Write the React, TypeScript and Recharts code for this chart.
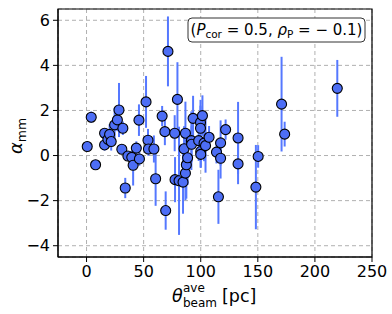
import React from 'react';
import {
	CartesianGrid,
	Customized,
	ErrorBar,
	ReferenceArea,
	Scatter,
	ScatterChart,
	XAxis,
	YAxis,
} from 'recharts';

// theta_beam^ave [pc], alpha_mm and its 1-sigma error
const theta = [
	0.6, 4.1, 7.9, 15.8, 15.8, 18.7, 20.2, 21.6, 24.6, 27.0, 28.4, 31.8, 30.9, 33.9, 36.2, 39.6,
	40.8, 43.6, 46.3, 45.9, 52.1, 53.8, 54.2, 59.0, 60.5, 66.2, 68.6, 69.3, 71.3, 77.2, 77.5, 79.6,
	81.0, 84.5, 85.4, 86.6, 86.6, 87.4, 88.5, 91.8, 92.0, 93.3, 98.2, 99.8, 99.8, 100.0, 100.0, 101.5,
	102.9, 104.2, 107.3, 113.8, 115.5, 117.4, 117.4, 121.8, 132.7, 132.7, 148.3, 150.3, 170.8, 173.5,
	219.6,
];
const alpha = [
	0.4, 1.7, -0.41, 0.99, 0.47, 0.72, 0.94, 0.62, 1.36, 1.58, 2.02, 1.21, 0.28, -1.44, -0.02, -0.08,
	-0.43, 0.33, -0.15, 1.57, 2.38, 0.68, 0.29, 0.29, -1.03, 1.75, 1.06, -2.44, 4.62, 0.99, -1.07, 2.49,
	-1.12, -1.18, 0.3, 0.99, -0.78, -0.41, -0.1, 0.66, 0.5, 1.65, 0.66, 1.47, 1.21, 0.18, 0.05, 1.77,
	0.55, 0.44, 0.81, 0.15, -1.83, 0.56, -0.12, 1.15, 0.78, -0.37, -1.4, -0.04, 2.28, 0.95,
	2.98,
];
const alphaErr = [
	0.12, 0.25, 0.1, 0.2, 0.25, 0.3, 0.45, 0.4, 0.75, 0.5, 1.2, 0.3, 0.2, 0.45, 0.2, 0.3,
	0.9, 0.3, 0.3, 0.7, 1.15, 0.5, 0.3, 0.6, 1.2, 0.45, 0.6, 0.85, 1.55, 0.8, 1.0, 1.65,
	2.4, 1.4, 1.0, 1.4, 1.2, 1.5, 1.2, 1.3, 0.8, 1.0, 0.9, 1.0, 1.0, 0.7, 0.6, 0.9,
	0.8, 1.2, 0.5, 0.5, 1.2, 1.0, 0.9, 0.45, 1.6, 0.9, 1.87, 0.5, 2.1, 0.55,
	1.26,
];

const xTicks = [0, 50, 100, 150, 200, 250];
const yTicks = [-4, -2, 0, 2, 4, 6];

const points = theta.map((t, i) => ({ theta: t, alpha: alpha[i], err: alphaErr[i] }));

const FONT = 'DejaVu Sans';
const minus = (v: number) => (v < 0 ? '\u2212' + Math.abs(v) : String(v));

const Dot = (props: any) => (
	<circle cx={props.cx} cy={props.cy} r={5} fill="#4d6ef5" stroke="#000" strokeWidth={1.1} />
);

// axis labels and the annotation box (mathtext-like)
const Labels = () => (
	<g fontFamily={FONT} fill="#000">
		<text x={172} y={302} fontSize={17.5} fontStyle="italic">θ</text>
		<text x={183} y={292} fontSize={12}>ave</text>
		<text x={183} y={307} fontSize={12}>beam</text>
		<text x={222} y={302} fontSize={17.5}>[pc]</text>

		<text transform="rotate(-90, 22, 154)" x={22} y={154} fontSize={18}>
			<tspan fontStyle="italic">α</tspan>
			<tspan fontSize={12.5} dy={4}>mm</tspan>
		</text>

		<rect x={188} y={18} width={177} height={24} rx={4} fill="#fff" stroke="#333" strokeWidth={1} />
		<text x={276.5} y={35} fontSize={15} textAnchor="middle">
			<tspan>(</tspan>
			<tspan fontStyle="italic">P</tspan>
			<tspan fontSize={10.5} dy={3}>cor</tspan>
			<tspan dy={-3}> = 0.5, </tspan>
			<tspan fontStyle="italic">ρ</tspan>
			<tspan fontSize={10.5} dy={3}>P</tspan>
			<tspan dy={-3}> = − 0.1)</tspan>
		</text>
	</g>
);

export default function App() {
	return (
		<div style={{ position: 'absolute', left: 0, top: 0, background: '#fff' }}>
			<ScatterChart width={392} height={314} margin={{ top: 9, right: 20, bottom: 0, left: 0 }}>
				<CartesianGrid stroke="#b0b0b0" strokeDasharray="4 3" />
				<XAxis
					type="number"
					dataKey="theta"
					domain={[-25, 250]}
					ticks={xTicks}
					allowDataOverflow
					height={57}
					tickSize={5}
					tickMargin={4}
					stroke="#000"
					tick={{ fill: '#000', fontSize: 16, fontFamily: FONT }}
				/>
				<YAxis
					type="number"
					dataKey="alpha"
					domain={[-4.5, 6.5]}
					ticks={yTicks}
					allowDataOverflow
					width={58}
					tickSize={5}
					tickMargin={3}
					stroke="#000"
					tickFormatter={minus}
					tick={{ fill: '#000', fontSize: 16, fontFamily: FONT }}
				/>
				<ReferenceArea x1={-25} x2={250} y1={-4.5} y2={6.5} fill="none" stroke="#000" strokeWidth={1.2} ifOverflow="visible" />
				<Scatter data={points} shape={<Dot />} isAnimationActive={false}>
					<ErrorBar dataKey="err" direction="y" width={0} stroke="#5578ff" strokeWidth={2} />
				</Scatter>
				<Customized component={<Labels />} />
			</ScatterChart>
		</div>
	);
}
